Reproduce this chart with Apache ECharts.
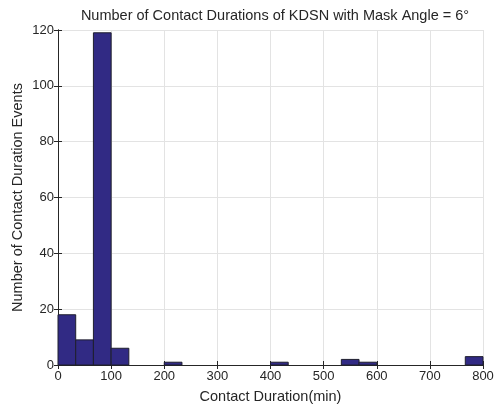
<!DOCTYPE html>
<html><head><meta charset="utf-8">
<script src="https://cdn.jsdelivr.net/npm/echarts@6/dist/echarts.min.js"></script>
<style>html,body{margin:0;padding:0;background:#fff}#c{width:502px;height:406px}</style>
</head><body><div id="c"></div>
<script>
const binStart = [0, 33.333, 66.667, 100, 200, 400, 533.333, 566.667, 766.667];
const binEnd   = [33.333, 66.667, 100, 133.333, 233.333, 433.333, 566.667, 600, 800];
const counts   = [18, 9, 119, 6, 1, 1, 2, 1, 3];
const xTicks = [0,100,200,300,400,500,600,700,800];
const yTicks = [0,20,40,60,80,100,120];

const data = binStart.map((s,i)=>[s, binEnd[i], counts[i]]);
const font = 'Liberation Sans, Arial, sans-serif';
const chart = echarts.init(document.getElementById('c'));
const axisLineStyle = {color:'#262626', width:1};
chart.setOption({
  animation:false,
  title:{text:'Number of Contact Durations of KDSN with Mask Angle = 6°', left:270, top:3, textAlign:'center',
    textStyle:{fontFamily:font, fontSize:14.5, fontWeight:'normal', color:'#262626'}},
  grid:{left:58, right:19, top:30, bottom:41, outerBoundsMode:'none', containLabel:false},
  xAxis:[{type:'value', min:xTicks[0], max:xTicks[xTicks.length-1], interval:100, name:'Contact Duration(min)', nameLocation:'middle', nameGap:24, nameMoveOverlap:false,
    nameTextStyle:{fontFamily:font, fontSize:14.5, color:'#262626'},
    axisLine:{lineStyle:axisLineStyle}, axisTick:{inside:true, length:4, lineStyle:axisLineStyle},
    axisLabel:{fontFamily:font, fontSize:13, color:'#262626', margin:5},
    splitLine:{show:true, lineStyle:{color:'#e3e3e3'}}},
   {type:'value', position:'top', min:xTicks[0], max:xTicks[xTicks.length-1], interval:100,
    axisLine:{lineStyle:axisLineStyle}, axisTick:{inside:true, length:4, lineStyle:axisLineStyle},
    axisLabel:{show:false}, splitLine:{show:false}}],
  yAxis:[{type:'value', min:yTicks[0], max:yTicks[yTicks.length-1], interval:20, name:'Number of Contact Duration Events', nameLocation:'middle', nameGap:33, nameMoveOverlap:false,
    nameTextStyle:{fontFamily:font, fontSize:14.5, color:'#262626'},
    axisLine:{show:true, lineStyle:axisLineStyle}, axisTick:{show:true, inside:true, length:4, lineStyle:axisLineStyle},
    axisLabel:{fontFamily:font, fontSize:13, color:'#262626', margin:4},
    splitLine:{show:true, lineStyle:{color:'#e3e3e3'}}},
   {type:'value', position:'right', min:yTicks[0], max:yTicks[yTicks.length-1], interval:20,
    axisLine:{show:true, lineStyle:axisLineStyle}, axisTick:{show:true, inside:true, length:4, lineStyle:axisLineStyle},
    axisLabel:{show:false}, splitLine:{show:false}}],
  series:[{type:'custom', xAxisIndex:0, yAxisIndex:0, data:data,
    renderItem:function(params, api){
      const p0 = api.coord([api.value(0), api.value(2)]);
      const p1 = api.coord([api.value(1), 0]);
      return {type:'rect', shape:{x:p0[0], y:p0[1], width:p1[0]-p0[0], height:p1[1]-p0[1]},
        style:{fill:'#312a84', stroke:'#1f1f2e', lineWidth:1}};
    }}]
});
</script></body></html>
